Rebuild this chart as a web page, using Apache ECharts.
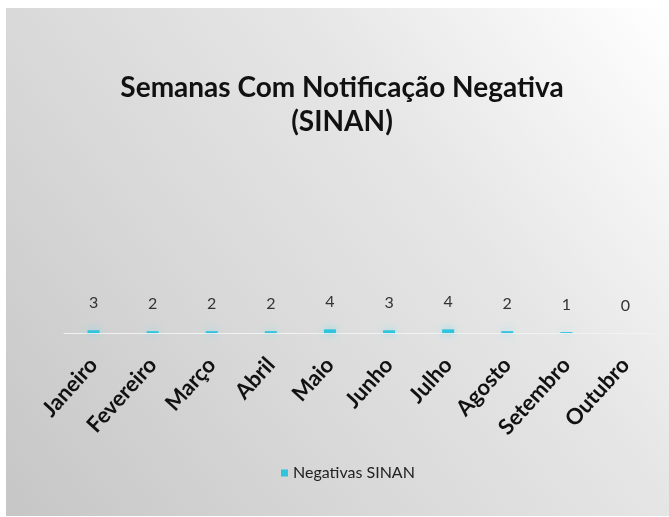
<!DOCTYPE html>
<html>
<head>
<meta charset="utf-8">
<script src="https://cdn.jsdelivr.net/npm/echarts@6/dist/echarts.min.js"></script>
<style>
  html, body { margin: 0; padding: 0; background: #fff; }
  #chart { width: 669px; height: 517px; }
</style>
</head>
<body>
<div id="chart"></div>
<script>
  // meses
  var meses = ['Janeiro', 'Fevereiro', 'Março', 'Abril', 'Maio', 'Junho', 'Julho', 'Agosto', 'Setembro', 'Outubro']
  // semanas com notificação negativa
  var negativas = [3, 2, 2, 2, 4, 3, 4, 2, 1, 0]

  var chart = echarts.init(document.getElementById('chart'))
  var option = {
    backgroundColor: '#fff',
    textStyle: { fontFamily: 'Lato' },
    graphic: [{
      type: 'rect',
      z: -10,
      silent: true,
      shape: { x: 6, y: 8, width: 663, height: 508 },
      style: {
        fill: new echarts.graphic.LinearGradient(1, 0, 0, 1, [
          { offset: 0, color: '#ffffff' },
          { offset: 0.35, color: '#e6e6e6' },
          { offset: 0.65, color: '#d8d8d8' },
          { offset: 1, color: '#c6c6c6' }
        ])
      }
    }],
    title: {
      text: 'Semanas Com Notificação Negativa\n(SINAN)',
      left: 337,
      textAlign: 'center',
      top: 66,
      textStyle: {
        fontFamily: 'Lato',
        fontWeight: 'bold',
        fontSize: 28,
        lineHeight: 34,
        color: '#111'
      }
    },
    legend: {
      bottom: 31,
      left: 276,
      itemWidth: 7,
      itemHeight: 7,
      itemGap: 6,
      icon: 'rect',
      textStyle: { fontSize: 16, color: '#222', fontFamily: 'Lato' },
      data: ['Negativas SINAN']
    },
    grid: { left: 64, right: 14, top: 150, bottom: 184 },
    xAxis: {
      type: 'category',
      data: meses,
      axisLine: { lineStyle: { color: '#f2f2f2', width: 1 } },
      axisTick: { show: false },
      axisLabel: {
        rotate: 48,
        interval: 0,
        margin: 28,
        color: '#111',
        fontWeight: 'bold',
        fontSize: 22,
        fontFamily: 'Lato'
      }
    },
    yAxis: {
      type: 'value',
      min: 0,
      max: 200,
      show: false
    },
    series: [{
      name: 'Negativas SINAN',
      type: 'bar',
      data: negativas,
      barWidth: 12,
      itemStyle: {
        color: '#2ec4dc',
        shadowBlur: 8,
        shadowColor: 'rgba(90, 215, 240, 0.8)'
      },
      label: {
        show: true,
        position: 'top',
        distance: 19,
        fontSize: 16,
        color: '#333',
        fontFamily: 'Lato'
      }
    }]
  }
  chart.setOption(option)
</script>
</body>
</html>
